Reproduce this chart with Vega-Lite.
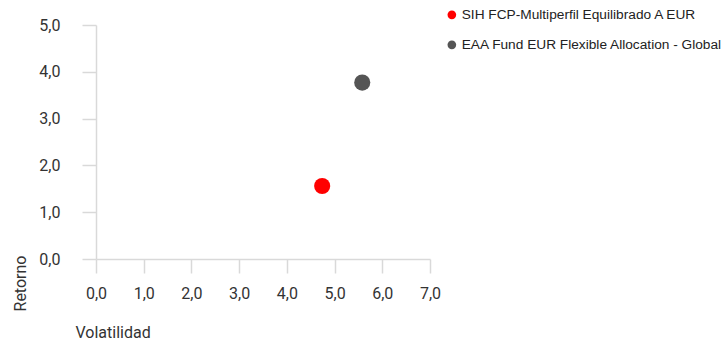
{
  "$schema": "https://vega.github.io/schema/vega-lite/v6.json",
  "width": 334,
  "height": 234,
  "autosize": {"type": "none"},
  "padding": {"left": 96, "top": 25, "right": 295, "bottom": 82},
  "background": "white",
  "config": {"view": {"stroke": null}},
  "data": {"values": [
    {"name": "SIH FCP-Multiperfil Equilibrado A EUR", "volatilidad": 4.74, "retorno": 1.56},
    {"name": "EAA Fund EUR Flexible Allocation - Global", "volatilidad": 5.58, "retorno": 3.77}
  ]},
  "mark": {"type": "circle", "opacity": 1, "size": 260},
  "encoding": {
    "x": {"field": "volatilidad", "type": "quantitative",
      "scale": {"domain": [0, 7], "nice": false, "zero": false},
      "axis": {"title": "Volatilidad", "values": [0,1,2,3,4,5,6,7], "format": ".1f", "labelExpr": "replace(datum.label, '.', ',')",
        "grid": false, "domainColor": "#d9d9d9", "tickColor": "#d9d9d9", "tickSize": 14, "domainWidth": 1.5, "tickWidth": 1.5,
        "labelFlush": false, "labelOverlap": false,
        "labelFont": "Roboto", "labelFontSize": 16, "labelColor": "#333333", "labelPadding": 12,
        "titleFont": "Roboto", "titleFontSize": 16, "titleFontWeight": "normal", "titleColor": "#333333",
        "titleX": -21, "titleY": 73, "titleAlign": "left", "titleBaseline": "middle"}},
    "y": {"field": "retorno", "type": "quantitative",
      "scale": {"domain": [0, 5], "nice": false, "zero": false},
      "axis": {"title": "Retorno", "values": [0,1,2,3,4,5], "format": ".1f", "labelExpr": "replace(datum.label, '.', ',')",
        "grid": false, "domainColor": "#d9d9d9", "tickColor": "#d9d9d9", "tickSize": 14, "domainWidth": 1.5, "tickWidth": 1.5,
        "labelFlush": false, "labelOverlap": false,
        "labelFont": "Roboto", "labelFontSize": 16, "labelColor": "#333333", "labelPadding": 22,
        "titleFont": "Roboto", "titleFontSize": 16, "titleFontWeight": "normal", "titleColor": "#333333",
        "titleX": -76, "titleY": 258, "titleAngle": -90, "titleAlign": "center", "titleBaseline": "middle"}},
    "color": {"field": "name", "type": "nominal",
      "scale": {"domain": ["SIH FCP-Multiperfil Equilibrado A EUR", "EAA Fund EUR Flexible Allocation - Global"], "range": ["#ff0000", "#555555"]},
      "legend": {"title": null, "orient": "none", "legendX": 349, "legendY": -17, "padding": 0,
        "symbolType": "circle", "symbolSize": 75, "symbolStrokeWidth": 0, "symbolOpacity": 1,
        "labelFont": "Liberation Sans", "labelFontSize": 13.7, "labelColor": "#222222", "labelOffset": 3, "rowPadding": 15, "labelLimit": 400}}
  }
}
